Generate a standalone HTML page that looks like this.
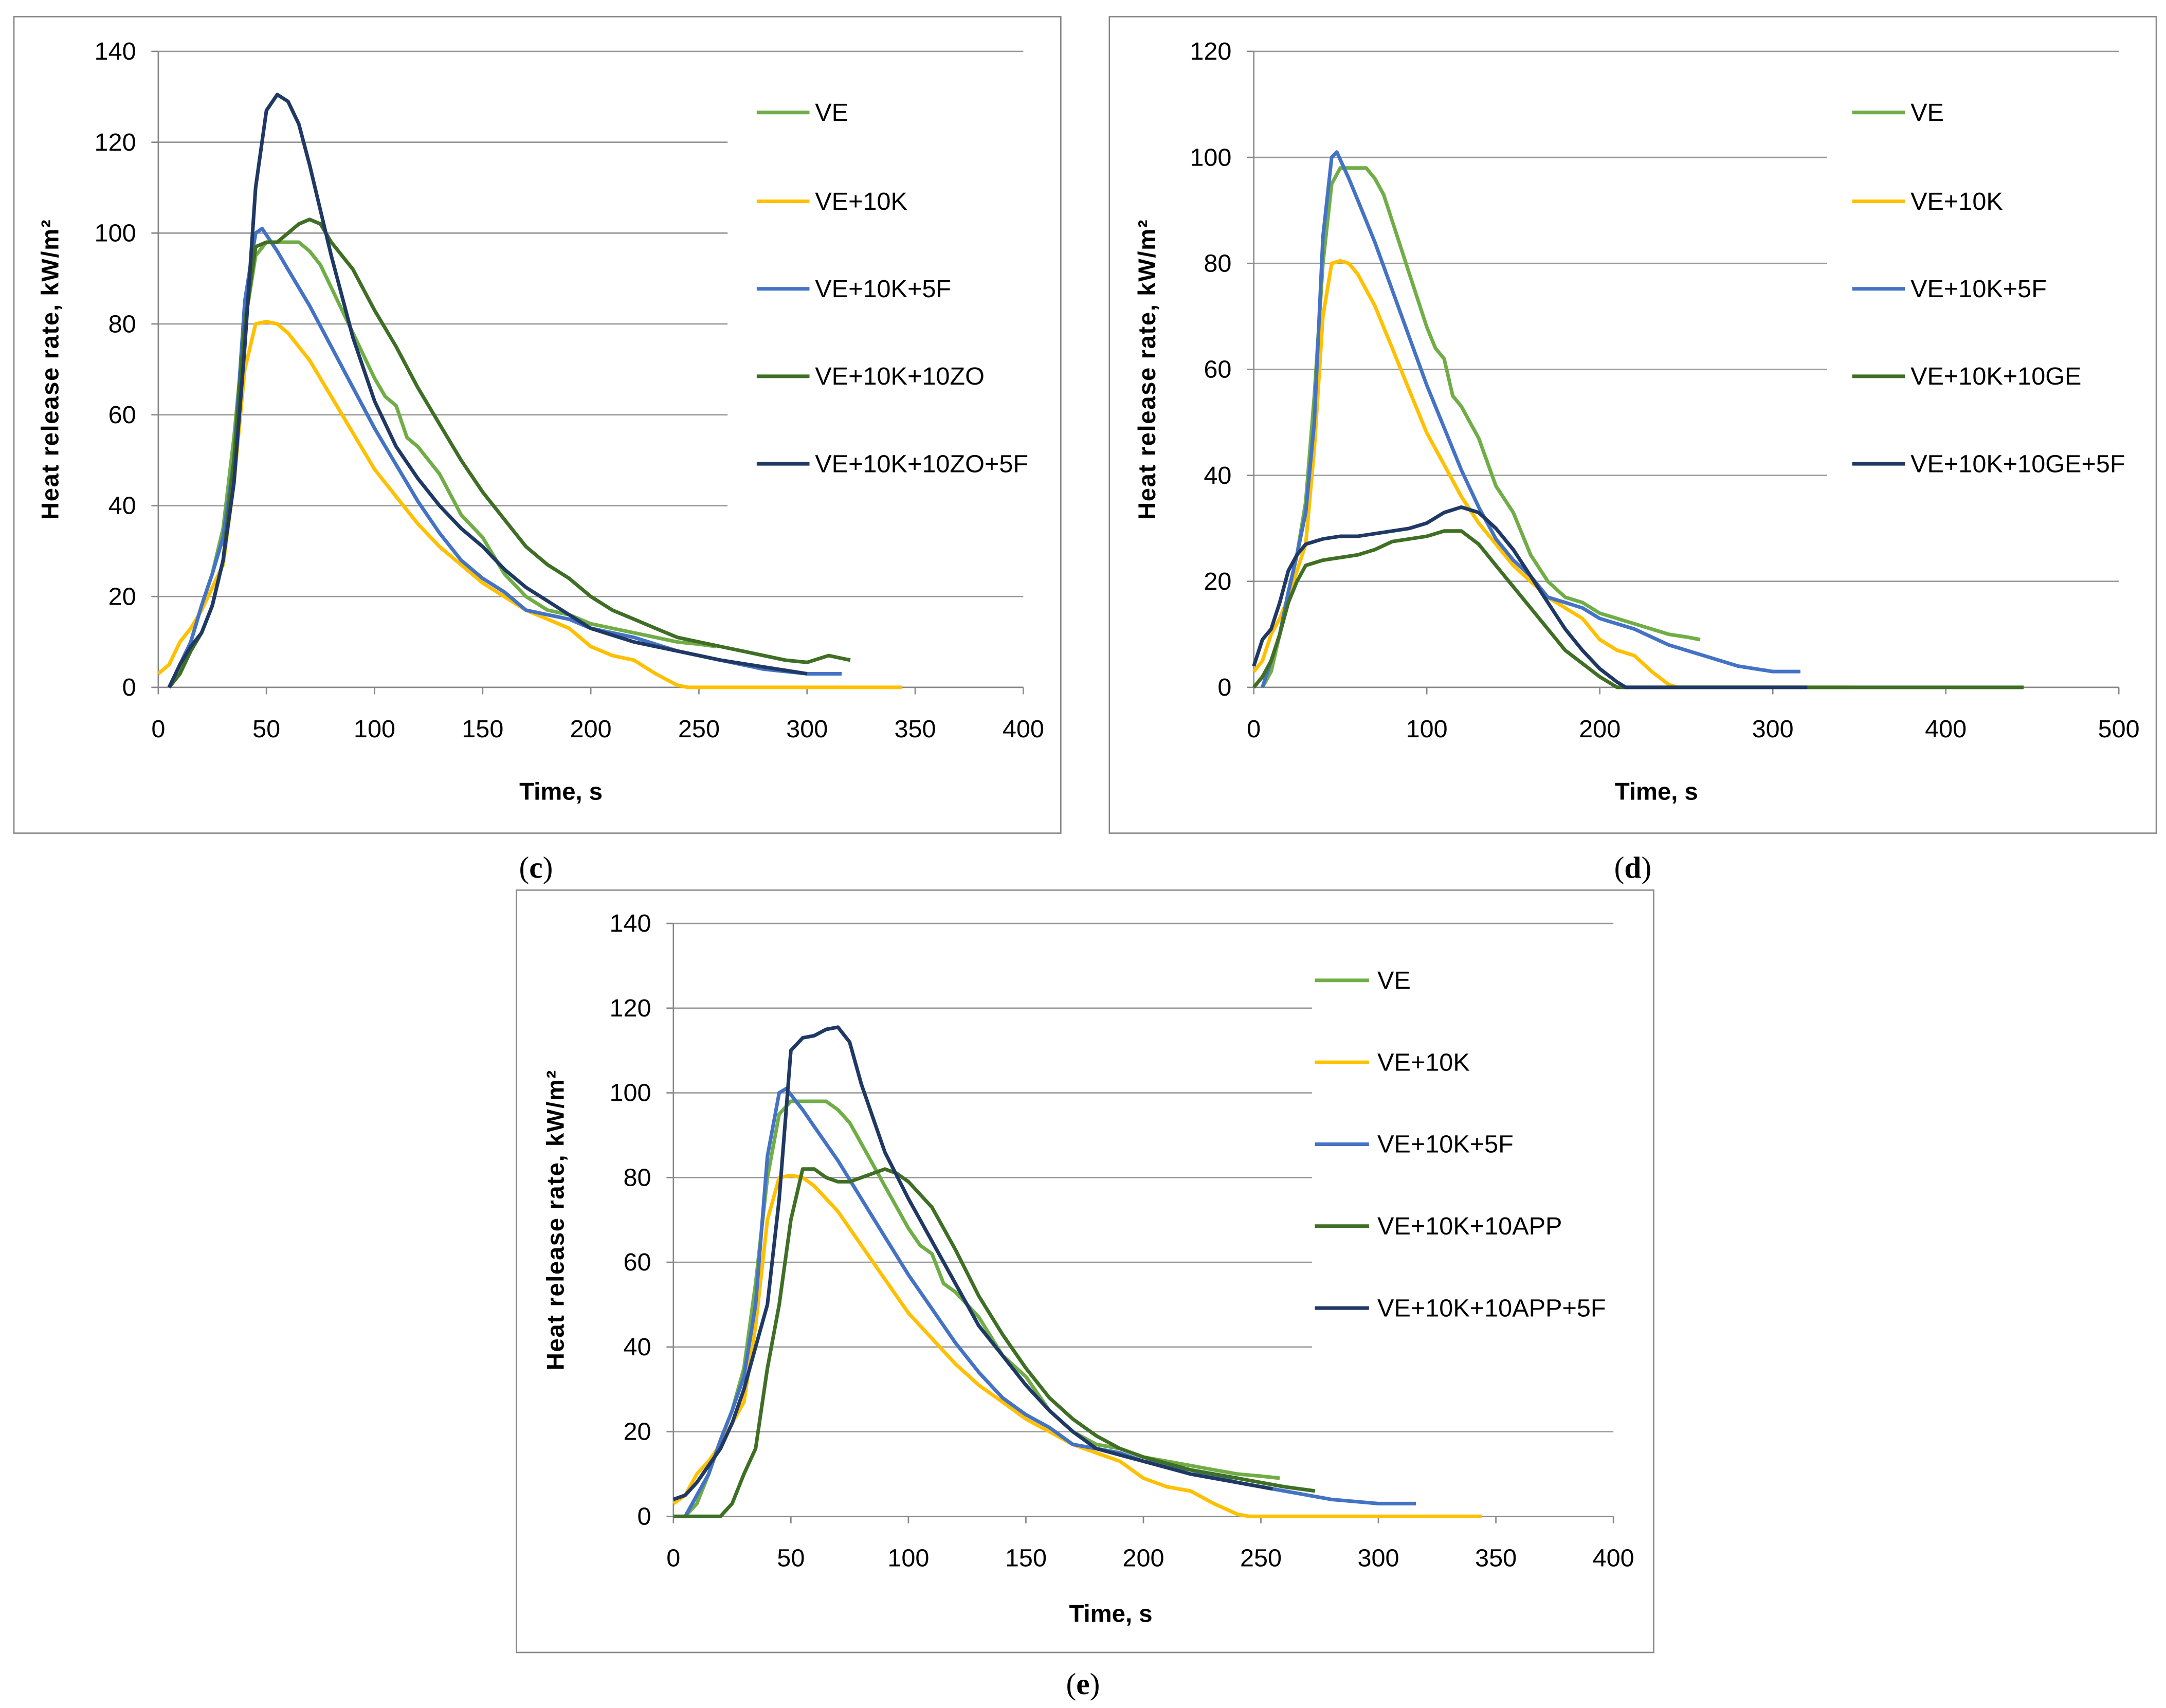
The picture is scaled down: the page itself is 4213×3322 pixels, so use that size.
<!DOCTYPE html>
<html><head><meta charset="utf-8"><style>
html,body{margin:0;padding:0;background:#fff;width:4213px;height:3322px;overflow:hidden}
svg{display:block}
text{font-family:"Liberation Sans Narrow","Liberation Sans",sans-serif;fill:#000}
.tk{font-size:18px}
.tt{font-size:17.5px;font-weight:bold;font-family:"Liberation Sans",sans-serif}
.lg{font-size:18px}
.cap{font-family:"Liberation Serif",serif;font-size:22px}
</style></head><body>
<svg id="fig" width="4213" height="3322" viewBox="0 0 1560 1230" preserveAspectRatio="none" xmlns="http://www.w3.org/2000/svg"></svg>
<script>
const colors=["#70ad47","#ffc000","#4472c4","#3f6e25","#1f3864"];
const ve=[[5,0],[10,3],[15,10],[20,18],[25,25],[30,35],[35,55],[40,80],[45,95],[50,98],[60,98],[65,98],[70,96],[75,93],[80,88],[90,78],[100,68],[105,64],[110,62],[115,55],[120,53],[130,47],[140,38],[150,33],[160,25],[170,20],[180,17],[190,16],[200,14],[210,13],[220,12],[230,11],[240,10],[250,9.5],[258,9]];
const ve10k=[[0,3],[5,5],[10,10],[15,13],[20,17],[30,27],[35,45],[40,70],[45,80],[50,80.5],[55,80],[60,78],[70,72],[80,64],[90,56],[100,48],[110,42],[120,36],[130,31],[140,27],[150,23],[160,20],[170,17],[180,15],[190,13],[200,9],[210,7],[220,6],[230,3],[240,0.5],[245,0],[344,0]];
const ve5f=[[5,0],[10,5],[15,10],[20,18],[25,25],[30,33],[35,50],[40,85],[45,100],[48,101],[55,96],[60,92],[70,84],[80,75],[90,66],[100,57],[110,49],[120,41],[130,34],[140,28],[150,24],[160,21],[170,17],[180,16],[190,15],[200,13],[220,11],[240,8],[260,6],[280,4],[300,3],[316,3]];
const zo=[[5,0],[10,3],[15,8],[20,12],[25,18],[30,28],[35,50],[40,80],[45,97],[50,98],[55,98],[60,100],[65,102],[70,103],[75,102],[80,98],[90,92],[100,83],[110,75],[120,66],[130,58],[140,50],[150,43],[160,37],[170,31],[180,27],[190,24],[200,20],[210,17],[220,15],[230,13],[240,11],[250,10],[260,9],[270,8],[280,7],[290,6],[300,5.5],[310,7],[320,6]];
const zo5f=[[5,0],[10,5],[15,9],[20,12],[25,18],[30,28],[35,45],[40,75],[45,110],[50,127],[55,130.5],[60,129],[65,124],[70,115],[80,95],[90,77],[100,63],[110,53],[120,46],[130,40],[140,35],[150,31],[160,26],[170,22],[180,19],[190,16],[200,13],[220,10],[240,8],[260,6],[280,4.5],[300,3]];
const ge=[[0,0],[5,2],[10,5],[15,10],[20,16],[25,20],[30,23],[40,24],[50,24.5],[60,25],[70,26],[80,27.5],[90,28],[100,28.5],[110,29.5],[120,29.5],[130,27],[140,23],[150,19],[160,15],[170,11],[180,7],[190,4.5],[200,2],[210,0],[445,0]];
const ge5f=[[0,4],[5,9],[10,11],[15,16],[20,22],[25,25],[30,27],[40,28],[50,28.5],[60,28.5],[70,29],[80,29.5],[90,30],[100,31],[110,33],[120,34],[130,33],[140,30],[150,26],[160,21],[170,16],[180,11],[190,7],[200,3.5],[210,1],[215,0],[320,0]];
const app=[[0,0],[20,0],[25,3],[30,10],[35,16],[40,35],[45,50],[50,70],[55,82],[60,82],[65,80],[70,79],[75,79],[80,80],[90,82],[95,81],[100,79],[110,73],[120,63],[130,52],[140,43],[150,35],[160,28],[170,23],[180,19],[190,16],[200,14],[220,11],[240,9],[260,7],[273,6]];
const app5f=[[0,4],[5,5],[10,8],[15,12],[20,16],[25,22],[30,30],[35,40],[40,50],[45,75],[50,110],[55,113],[60,113.5],[65,115],[70,115.5],[75,112],[80,102],[90,86],[100,75],[110,65],[120,55],[130,45],[140,38],[150,31],[160,25],[170,20],[180,16],[200,13],[220,10],[240,8],[255,6.5]];
const xTicksC=[0,50,100,150,200,250,300,350,400];
const xTicksD=[0,100,200,300,400,500];
const yTicksC=[0,20,40,60,80,100,120,140];
const yTicksD=[0,20,40,60,80,100,120];

const NS="http://www.w3.org/2000/svg";
const svg=document.getElementById('fig');
function mk(tag,attrs,parent,txt){const e=document.createElementNS(NS,tag);for(const k in attrs)e.setAttribute(k,attrs[k]);if(txt!==undefined)e.textContent=txt;(parent||svg).appendChild(e);return e;}

const panels=[
 {id:'c',box:[10,12,754,588],x0:114,x1:737,y0:495,y1:37,xmax:400,ymax:140,xt:xTicksC,yt:yTicksC,gridEnd:524,
  series:[ve,ve10k,ve5f,zo,zo5f],labels:["VE","VE+10K","VE+10K+5F","VE+10K+10ZO","VE+10K+10ZO+5F"],
  leg:[545,583,587,[81,145,208,271,334]],timeX:404,timeY:576,ytX:36,cap:[386,625,"c"]},
 {id:'d',box:[799,12,754,588],x0:903,x1:1526,y0:495,y1:37,xmax:500,ymax:120,xt:xTicksD,yt:yTicksD,gridEnd:1316,
  series:[ve,ve10k,ve5f,ge,ge5f],labels:["VE","VE+10K","VE+10K+5F","VE+10K+10GE","VE+10K+10GE+5F"],
  leg:[1334,1372,1376,[81,145,208,271,334]],timeX:1193,timeY:576,ytX:826,cap:[1176,625,"d"]},
 {id:'e',box:[372,641,819,549],x0:485,x1:1162,y0:1092,y1:665,xmax:400,ymax:140,xt:xTicksC,yt:yTicksC,gridEnd:945,
  series:[ve,ve10k,ve5f,app,app5f],labels:["VE","VE+10K","VE+10K+5F","VE+10K+10APP","VE+10K+10APP+5F"],
  leg:[947,986,992,[706,765,824,883,942]],timeX:800,timeY:1168,ytX:400,cap:[780,1213,"e"]}
];

panels.forEach(p=>{
 const g=mk('g',{});
 
 
 const sx=v=>p.x0+(p.x1-p.x0)*v/p.xmax;
 const sy=v=>p.y0-(p.y0-p.y1)*v/p.ymax;
 const b=mk('rect',{x:p.box[0],y:p.box[1],width:p.box[2],height:p.box[3],fill:'#fff',stroke:'#888','stroke-width':1},g);
 
 p.yt.forEach(v=>{
  const full=(v===p.yt[p.yt.length-1]||v===20);
  if(v>0){const l=mk('line',{x1:p.x0,x2:full?p.x1:p.gridEnd,y1:sy(v),y2:sy(v),stroke:'#999','stroke-width':1},g);
   }
  mk('line',{x1:p.x0-5,x2:p.x0,y1:sy(v),y2:sy(v),stroke:'#888'},g);
  const t=mk('text',{x:p.x0-16,y:sy(v)+6,'text-anchor':'end',class:'tk'},g,String(v));
  
 });
 mk('line',{x1:p.x0,x2:p.x0,y1:p.y1,y2:p.y0,stroke:'#888'},g);
 mk('line',{x1:p.x0,x2:p.x1,y1:p.y0,y2:p.y0,stroke:'#888'},g);
 p.xt.forEach(v=>{
  mk('line',{x1:sx(v),x2:sx(v),y1:p.y0,y2:p.y0+5,stroke:'#888'},g);
  const t=mk('text',{x:sx(v),y:p.y0+36,'text-anchor':'middle',class:'tk'},g,String(v));
  
 });
 const xt=mk('text',{x:p.timeX,y:p.timeY,'text-anchor':'middle',class:'tt'},g,'Time, s');
 
 const cy=(p.y0+p.y1)/2;
 const yt=mk('text',{x:p.ytX+6,y:cy,'text-anchor':'middle',class:'tt','letter-spacing':'0.6',transform:`rotate(-90 ${p.ytX+6} ${cy})`},g,'Heat release rate,  kW/m²');
 
 p.series.forEach((s,i)=>{
  const d=s.map((pt,j)=>(j?'L':'M')+sx(pt[0]).toFixed(1)+','+sy(pt[1]).toFixed(1)).join('');
  const path=mk('path',{d:d,fill:'none',stroke:colors[i],'stroke-width':2.6,'stroke-linejoin':'round'},g);
  
  
  const ly=p.leg[3][i];
  const lg=mk('g',{},g);
  
  mk('line',{x1:p.leg[0],x2:p.leg[1],y1:ly,y2:ly,stroke:colors[i],'stroke-width':2.6},lg);
  mk('text',{x:p.leg[2],y:ly+6,class:'lg'},lg,p.labels[i]);
 });
 const c=mk('text',{x:p.cap[0],y:p.cap[1]+7,'text-anchor':'middle',class:'cap'},svg);
 
 mk('tspan',{},c,'(');mk('tspan',{'font-weight':'bold'},c,p.cap[2]);mk('tspan',{},c,')');
});
</script>
</body></html>
